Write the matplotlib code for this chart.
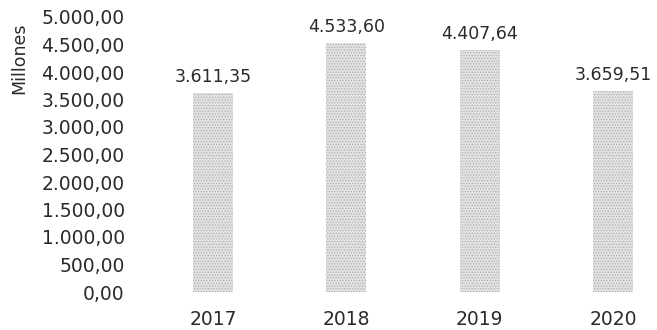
import matplotlib
matplotlib.use("Agg")
import matplotlib.pyplot as plt
from matplotlib.ticker import FuncFormatter

years = ["2017", "2018", "2019", "2020"]
values = [3611.35, 4533.60, 4407.64, 3659.51]
y_ticks = [0, 500, 1000, 1500, 2000, 2500, 3000, 3500, 4000, 4500, 5000]


def es_format(v):
    s = f"{v:,.2f}"
    return s.replace(",", "X").replace(".", ",").replace("X", ".")


plt.rcParams["font.family"] = ["DejaVu Sans"]
plt.rcParams["hatch.linewidth"] = 0.5

fig = plt.figure(figsize=(6.57, 3.30), dpi=100)
ax = fig.add_axes([140 / 657, 38 / 330, 517 / 657, 275 / 330])

x = list(range(len(years)))
bars = ax.bar(x, values, width=0.30, facecolor="#e2e2e2", edgecolor="#a8a8a8",
              linewidth=0, hatch="......")

for xi, v in zip(x, values):
    ax.annotate(es_format(v), (xi, v), xytext=(0, 5), textcoords="offset points",
                ha="center", va="bottom", fontsize=12.5, color="#2a2a2a")

ax.set_xlim(-0.548, 3.33)
ax.set_ylim(0, 5000)
ax.set_yticks(y_ticks)
ax.yaxis.set_major_formatter(FuncFormatter(lambda v, p: es_format(v)))
ax.set_xticks(x)
ax.set_xticklabels(years)
ax.tick_params(axis="both", length=0, labelsize=13.5, colors="#2a2a2a")
ax.tick_params(axis="y", pad=11)
ax.tick_params(axis="x", pad=13)
for sp in ax.spines.values():
    sp.set_visible(False)

fig.text(19 / 657, 1 - 58 / 330, "Millones", rotation=90, ha="center",
         va="center", fontsize=12.5, color="#2a2a2a")

fig.savefig("out.png", dpi=100)
